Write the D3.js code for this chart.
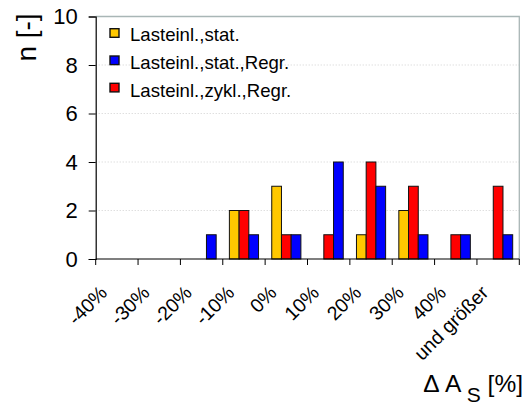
<!DOCTYPE html>
<html><head><meta charset="utf-8">
<script src="https://cdn.jsdelivr.net/npm/d3@7"></script>
<style>body{margin:0;background:#fff}svg{display:block;font-family:Arial,"Liberation Sans",sans-serif}</style>
</head><body>
<svg id="c" width="530" height="405"></svg>
<script>
const categories = ["-40%","-30%","-20%","-10%","0%","10%","20%","30%","40%","und größer"];
const seriesNames = ["Lasteinl.,stat.","Lasteinl.,stat.,Regr.","Lasteinl.,zykl.,Regr."];
const statValues = [0,0,0,2,3,0,1,2,0,0];
const statRegrValues = [0,0,1,1,1,4,3,1,1,1];
const zyklRegrValues = [0,0,0,2,1,1,4,3,1,3];
const yTicks = [0,2,4,6,8,10];
const colors = {"Lasteinl.,stat.":"#FFC800","Lasteinl.,stat.,Regr.":"#0000FF","Lasteinl.,zykl.,Regr.":"#FF0000"};
// bar order within each group as drawn in the reference
const barOrder = ["Lasteinl.,stat.","Lasteinl.,zykl.,Regr.","Lasteinl.,stat.,Regr."];
const valuesBySeries = {"Lasteinl.,stat.":statValues,"Lasteinl.,stat.,Regr.":statRegrValues,"Lasteinl.,zykl.,Regr.":zyklRegrValues};

const svg = d3.select("#c");
const L = 95.7, R = 519.3, T = 16.5, B = 259;
const x0 = d3.scaleBand().domain(categories).range([L, R]).padding(0);
const x1 = d3.scaleBand().domain(barOrder).range([0, x0.bandwidth()]).paddingInner(0).paddingOuter(0.68);
const y = d3.scaleLinear().domain([0,10]).range([B, T]);

// gridlines
svg.append("g").selectAll("line").data(yTicks.filter(v=>v>0 && v<10)).join("line")
  .attr("x1", L).attr("x2", R).attr("y1", d=>y(d)).attr("y2", d=>y(d))
  .attr("stroke","#d0d0d0").attr("stroke-width",1).attr("stroke-dasharray","1,2");

// plot border (top/right)
svg.append("path").attr("d",`M${L},${y(10)}H${R}V${B}`).attr("fill","none").attr("stroke","#a9b6b6").attr("stroke-width",1.3);

// bars
const rows = [];
categories.forEach((c,i)=>barOrder.forEach(s=>{ if(valuesBySeries[s][i]>0) rows.push({c,s,v:valuesBySeries[s][i]}); }));
svg.append("g").selectAll("rect").data(rows).join("rect")
  .attr("x", d=>x0(d.c)+x1(d.s)).attr("width", x1.bandwidth())
  .attr("y", d=>y(d.v)).attr("height", d=>B-y(d.v))
  .attr("fill", d=>colors[d.s]).attr("stroke","#111").attr("stroke-width",1);

// y axis
const ya = svg.append("g").attr("transform",`translate(${L},0)`)
  .call(d3.axisLeft(y).tickValues(yTicks).tickSize(7).tickPadding(11).tickFormat(d3.format("d")));
ya.select(".domain").attr("stroke","#000").attr("stroke-width",1.2);
ya.selectAll(".tick line").attr("stroke","#000");
ya.selectAll(".tick text").attr("font-size",22).attr("fill","#000").attr("font-family","Arial, 'Liberation Sans', sans-serif");

// x axis
const tickPositions = categories.map(c=>x0(c)).concat([R]);
svg.append("line").attr("x1",L).attr("x2",R).attr("y1",B).attr("y2",B).attr("stroke","#000").attr("stroke-width",1.2);
svg.append("g").selectAll("line").data(tickPositions).join("line")
  .attr("x1",d=>d).attr("x2",d=>d).attr("y1",B).attr("y2",B+6).attr("stroke","#000");
svg.append("g").selectAll("text").data(categories).join("text")
  .attr("transform", d=>`translate(${x0(d)+x0.bandwidth()/2-8.5},294) rotate(-45)`)
  .attr("text-anchor","end").attr("font-size",19.5).attr("fill","#000").text(d=>d);

// axis titles
svg.append("text").attr("transform","translate(36,37.5) rotate(-90)").attr("text-anchor","middle")
  .attr("font-size",28).attr("fill","#000").text("n [-]");
const xt = svg.append("text").attr("x",523).attr("y",392).attr("text-anchor","end").attr("font-size",24.5).attr("fill","#000");
xt.append("tspan").text("\u0394 A ");
xt.append("tspan").attr("dy",10).attr("font-size",21).text("S");
xt.append("tspan").attr("dy",-10).text(" [%]");

// legend
const lg = svg.append("g");
seriesNames.forEach((s,i)=>{
  const cy = 33 + i*27.3;
  lg.append("rect").attr("x",110).attr("y",cy-4.3).attr("width",9).attr("height",8.6)
    .attr("fill",colors[s]).attr("stroke","#111").attr("stroke-width",1.4);
  lg.append("text").attr("x",130).attr("y",41 + i*28).attr("font-size",18.6).attr("fill","#000").text(s);
});
</script>
</body></html>
